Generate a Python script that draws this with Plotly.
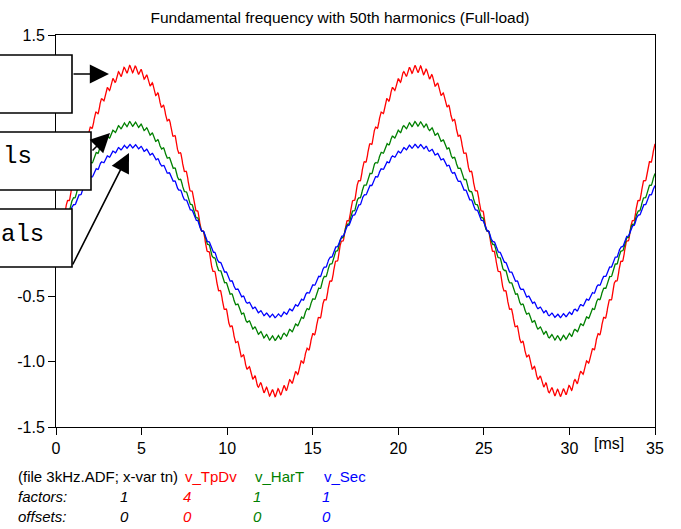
import numpy as np
import plotly.graph_objects as go

# ---- data ----
series_names = ["v_TpDv", "v_HarT", "v_Sec"]
series_colors = ["#ff0000", "#008000", "#0000ff"]
factors = ["4", "1", "1"]
offsets = ["0", "0", "0"]
fundamental_amp = [1.24, 0.82, 0.65]     # peak of the fundamental
harmonic_amp = [0.028, 0.018, 0.014]     # amplitude of 50th-harmonic ripple
fundamental_hz = 60.0
harmonic_order = 50
zero_cross_ms = 0.22                      # rising zero crossing of fundamental
t_ms = np.arange(0.0, 35.0001, 0.025)

x_ticks = [0, 5, 10, 15, 20, 25, 30, 35]
y_ticks = [-1.5, -1.0, -0.5, 0.0, 0.5, 1.0, 1.5]

fig = go.Figure()
for name, col, a1, ah in zip(series_names, series_colors, fundamental_amp, harmonic_amp):
    ph = 2 * np.pi * fundamental_hz / 1000.0 * (t_ms - zero_cross_ms)
    y = a1 * np.sin(ph) + ah * np.sin(harmonic_order * ph)
    fig.add_trace(go.Scatter(x=t_ms, y=y, mode="lines", name=name,
                             line=dict(color=col, width=1.3), showlegend=False))

W, H = 681, 529
# plot area in window pixels: x 56..655, y 35..427
PX0, PX1, PY0, PY1 = 56, 655, 35, 427
L, T = PX0, PY0
R, B = W - PX1, H - PY1
pw, ph_ = PX1 - PX0, PY1 - PY0


def px(xw):
    return (xw - PX0) / pw


def py(yw):
    return (PY1 - yw) / ph_


font = "Liberation Sans, Arial, sans-serif"
mono = "Liberation Mono, Courier New, monospace"

shapes = []
for (x1p, y0p, y1p) in [(72, 55, 113), (91, 132, 190), (72, 209, 267)]:
    shapes.append(dict(type="rect", xref="paper", yref="paper",
                       x0=px(-300), x1=px(x1p), y0=py(y1p), y1=py(y0p),
                       line=dict(color="black", width=1.6), fillcolor="white",
                       layer="above"))

ann = []
# arrows from the boxes
for (tipx, tipy, tailx, taily) in [(109, 74, 72, 74), (110, 133, 91, 152), (129, 153, 72, 266)]:
    ann.append(dict(xref="paper", yref="paper", x=px(tipx), y=py(tipy), text="",
                    showarrow=True, arrowhead=2, arrowsize=2.4, arrowwidth=1.6,
                    arrowcolor="black", ax=tailx - tipx, ay=taily - tipy,
                    standoff=0, startstandoff=0))
# visible ends of the box texts
ann.append(dict(xref="paper", yref="paper", x=px(34), y=py(156), text="ls",
                showarrow=False, xanchor="right", yanchor="middle",
                font=dict(family=mono, size=24, color="black")))
ann.append(dict(xref="paper", yref="paper", x=px(46), y=py(234), text="als",
                showarrow=False, xanchor="right", yanchor="middle",
                font=dict(family=mono, size=24, color="black")))
# unit label
ann.append(dict(xref="paper", yref="paper", x=px(609), y=py(443), text="[ms]",
                showarrow=False, xanchor="center", yanchor="middle",
                font=dict(family=font, size=16, color="black")))
# bottom info rows
row_y = [476, 496, 516]
ann.append(dict(xref="paper", yref="paper", x=px(16), y=py(row_y[0]),
                text="(file 3kHz.ADF; x-var tn)", showarrow=False,
                xanchor="left", yanchor="middle", font=dict(family=font, size=15, color="black")))
ann.append(dict(xref="paper", yref="paper", x=px(16), y=py(row_y[1]), text="<i>factors:</i>",
                showarrow=False, xanchor="left", yanchor="middle",
                font=dict(family=font, size=15, color="black")))
ann.append(dict(xref="paper", yref="paper", x=px(16), y=py(row_y[2]), text="<i>offsets:</i>",
                showarrow=False, xanchor="left", yanchor="middle",
                font=dict(family=font, size=15, color="black")))
ann.append(dict(xref="paper", yref="paper", x=px(124), y=py(row_y[1]), text="<i>1</i>",
                showarrow=False, xanchor="center", yanchor="middle",
                font=dict(family=font, size=15, color="black")))
ann.append(dict(xref="paper", yref="paper", x=px(124), y=py(row_y[2]), text="<i>0</i>",
                showarrow=False, xanchor="center", yanchor="middle",
                font=dict(family=font, size=15, color="black")))
name_x = [183, 253, 322]
num_x = [187, 257, 326]
for name, col, fa, of, nx, cx in zip(series_names, series_colors, factors, offsets, name_x, num_x):
    ann.append(dict(xref="paper", yref="paper", x=px(nx), y=py(row_y[0]), text=name,
                    showarrow=False, xanchor="left", yanchor="middle",
                    font=dict(family=font, size=15, color=col)))
    ann.append(dict(xref="paper", yref="paper", x=px(cx), y=py(row_y[1]), text="<i>" + fa + "</i>",
                    showarrow=False, xanchor="center", yanchor="middle",
                    font=dict(family=font, size=15, color=col)))
    ann.append(dict(xref="paper", yref="paper", x=px(cx), y=py(row_y[2]), text="<i>" + of + "</i>",
                    showarrow=False, xanchor="center", yanchor="middle",
                    font=dict(family=font, size=15, color=col)))

fig.update_layout(
    width=W, height=H,
    margin=dict(l=L, r=R, t=T, b=B, autoexpand=False),
    paper_bgcolor="white", plot_bgcolor="white",
    title=dict(text="Fundamental frequency with 50th harmonics (Full-load)",
               x=340 / W, xref="container", xanchor="center",
               y=1 - 18 / H, yref="container", yanchor="middle",
               font=dict(family=font, size=15.5, color="black")),
    font=dict(family=font, size=16, color="black"),
    shapes=shapes, annotations=ann,
)
fig.update_xaxes(range=[0, 35], tickvals=x_ticks, ticks="outside", ticklen=7,
                 tickcolor="black", showline=True, linecolor="black", linewidth=1,
                 mirror=True, showgrid=False, zeroline=False,
                 tickfont=dict(family=font, size=16, color="black"))
fig.update_yaxes(range=[-1.5, 1.5], tickvals=y_ticks,
                 ticktext=["%.1f" % v for v in y_ticks], ticks="outside", ticklen=7,
                 tickcolor="black", showline=True, linecolor="black", linewidth=1,
                 mirror=True, showgrid=False, zeroline=False,
                 tickfont=dict(family=font, size=16, color="black"))

# remove the browser's default 8px page margin so the figure sits at (0, 0)
fig.write_html("out.html", config={"displayModeBar": False},
               post_script="document.body.style.margin='0px';")
